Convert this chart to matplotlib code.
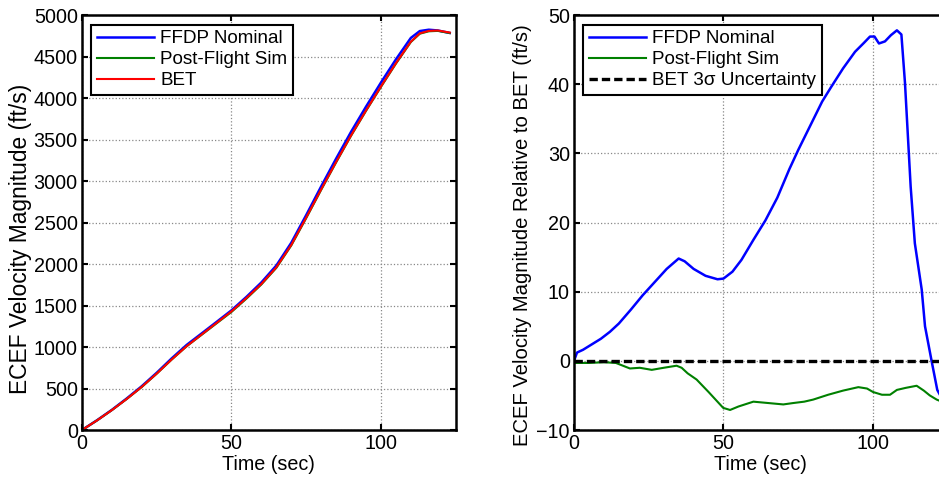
import numpy as np
import matplotlib.pyplot as plt

plt.rcParams['font.family'] = ['Liberation Sans', 'DejaVu Sans']
plt.rcParams['font.size'] = 14.2

# left panel: ECEF velocity magnitude (ft/s)
t_mag = [0, 5, 10, 15, 20, 25, 30, 35, 40, 45, 50, 55, 60, 65, 70, 75, 80,
         85, 90, 95, 100, 105, 110, 113, 116, 119, 123]
bet_mag = [0, 115, 240, 375, 520, 680, 850, 1010, 1150, 1290, 1430, 1590,
           1760, 1960, 2230, 2560, 2900, 3230, 3550, 3850, 4140, 4420, 4680,
           4780, 4810, 4815, 4790]
ffdp_mag = [0, 117, 243, 381, 528, 690, 863, 1025, 1163, 1302, 1442, 1604,
            1778, 1982, 2256, 2590, 2935, 3270, 3593, 3896, 4187, 4466, 4725,
            4808, 4824, 4815, 4785]
sim_mag = [0, 115, 240, 375, 519, 679, 849, 1009, 1147, 1285, 1423, 1583,
           1754, 1954, 2224, 2554, 2894, 3225, 3546, 3846, 4135, 4415, 4676,
           4776, 4805, 4810, 4784]

# right panel: difference relative to BET (ft/s)
t_ffdp = [0, 1, 3, 6, 9, 12, 15, 19, 23, 27, 31, 35, 37, 40, 44, 48, 50, 53,
          56, 60, 64, 68, 72, 75, 79, 83, 86, 90, 94, 97, 99, 100.5, 102,
          104, 106, 108, 109.5, 110.7, 112.6, 114, 116.3, 117.4, 119.6,
          121.5, 122.5]
ffdp_diff = [0, 1.2, 1.6, 2.4, 3.2, 4.2, 5.4, 7.4, 9.5, 11.4, 13.3, 14.8,
             14.4, 13.3, 12.3, 11.8, 11.9, 12.9, 14.6, 17.5, 20.3, 23.6, 27.7,
             30.5, 34.0, 37.5, 39.6, 42.3, 44.7, 46.0, 46.9, 46.9, 45.9, 46.2,
             47.1, 47.8, 47.2, 40.2, 25.2, 17.0, 10.3, 5.0, 0.0, -4.2, -5.0]
t_sim = [0, 5, 10, 14, 18.7, 22, 26, 30, 34.3, 36, 38, 41, 45, 49.9, 52.2,
         55, 60, 65, 70, 73.3, 77, 80, 85, 90, 95.1, 98, 100, 103, 105.7, 108,
         111, 114.6, 117, 119, 121.3, 123]
sim_diff = [-0.3, -0.3, -0.2, -0.3, -1.1, -1.0, -1.3, -1.0, -0.7, -1.0, -1.8,
            -2.7, -4.5, -6.8, -7.1, -6.6, -5.9, -6.1, -6.3, -6.1, -5.9, -5.6,
            -4.9, -4.3, -3.8, -4.0, -4.5, -4.9, -4.9, -4.2, -3.9, -3.6, -4.3,
            -5.0, -5.6, -5.9]
t_unc = [0, 125]
unc = [0, 0]

fig = plt.figure(figsize=(9.39, 4.83), dpi=100)
ax1 = fig.add_axes([0.0873, 0.1097, 0.398, 0.859])
ax2 = fig.add_axes([0.6113, 0.1097, 0.398, 0.859])

ax1.plot(t_mag, ffdp_mag, color='#0000ff', lw=1.8, label='FFDP Nominal')
ax1.plot(t_mag, sim_mag, color='#008000', lw=1.5, label='Post-Flight Sim')
ax1.plot(t_mag, bet_mag, color='#ff0000', lw=1.5, label='BET')
ax1.set_xlim(0, 125)
ax1.set_ylim(0, 5000)
ax1.set_yticks(np.arange(0, 5001, 500))
ax1.set_ylabel('ECEF Velocity Magnitude (ft/s)', fontsize=16.4)
ax1.yaxis.set_label_coords(-0.133, 0.46)

ax2.plot(t_ffdp, ffdp_diff, color='#0000ff', lw=1.8, label='FFDP Nominal')
ax2.plot(t_sim, sim_diff, color='#008000', lw=1.5, label='Post-Flight Sim')
ax2.plot(t_unc, unc, color='k', lw=2.4, ls=(0, (2.5, 1.2)),
         label='BET 3\u03c3 Uncertainty')
ax2.set_xlim(0, 125)
ax2.set_ylim(-10, 50)
ax2.set_yticks(np.arange(-10, 51, 10))
ax2.set_ylabel('ECEF Velocity Magnitude Relative to BET (ft/s)', fontsize=14.6)
ax2.yaxis.set_label_coords(-0.113, 0.47)

for ax in (ax1, ax2):
    ax.set_xticks([0, 50, 100])
    ax.set_xlabel('Time (sec)', labelpad=1)
    ax.grid(True, ls=':', color='#888888', lw=0.9)
    ax.tick_params(direction='in', length=4, width=1.5, top=True, right=True,
                   pad=3)
    for s in ax.spines.values():
        s.set_linewidth(1.8)
    leg = ax.legend(loc='upper left', fancybox=False, framealpha=1,
                    edgecolor='k', borderaxespad=0.5, handlelength=3.0,
                    labelspacing=0.2, borderpad=0.3, handletextpad=0.35,
                    fontsize=13.6)
    leg.get_frame().set_linewidth(1.5)

plt.savefig('out.png', dpi=100)
